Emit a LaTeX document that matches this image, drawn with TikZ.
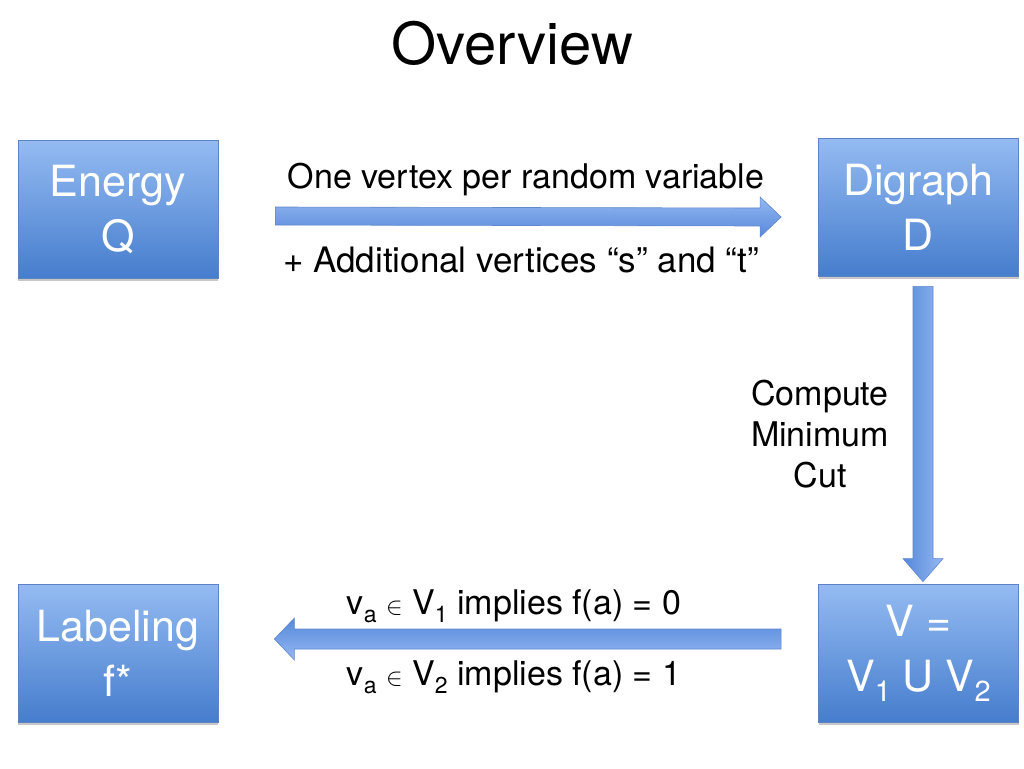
\documentclass[tikz,border=0pt]{standalone}
\usepackage{fontspec}
\setmainfont{TeX Gyre Heros}
\usetikzlibrary{calc,shadows}
\definecolor{boxtop}{RGB}{148,187,242}
\definecolor{boxbot}{RGB}{70,125,205}
\definecolor{boxedge}{RGB}{92,132,196}
\definecolor{arrlight}{RGB}{148,184,242}
\definecolor{arrdark}{RGB}{86,136,218}
\definecolor{arredge}{RGB}{96,136,204}
\newcommand\tsub[1]{\raisebox{-8pt}{\fontsize{23}{23}\selectfont #1}}
\newcommand\vsub[1]{\raisebox{-10pt}{\fontsize{29}{29}\selectfont #1}}
\begin{document}
\begin{tikzpicture}[x=1pt,y=-1pt,
  box/.style={draw=boxedge, line width=0.8pt, top color=boxtop, bottom color=boxbot,
    minimum width=200pt, minimum height=138pt, inner sep=0pt, align=center,
    text=white, font=\fontsize{43}{55}\selectfont,
    drop shadow={shadow xshift=0pt, shadow yshift=-3pt, opacity=0.22, fill=black}},
  lbl/.style={text=black, font=\fontsize{34}{41}\selectfont},
  harrowA/.style={draw=arredge, line width=0.6pt, top color=arrlight, bottom color=arrdark},
  harrowB/.style={draw=arredge, line width=0.6pt, top color=arrdark, bottom color=arrlight},
  varrow/.style={draw=arredge, line width=0.6pt, left color=arrdark, right color=arrlight}]
\useasboundingbox (0,0) rectangle (1024,768);
\fill[white] (0,0) rectangle (1024,768);

\node[anchor=base, font=\fontsize{58}{58}\selectfont] (title) at (512,64) {Overview};

\node[box] (Q) at (118,209) {Energy\\Q};
\node[box] (D) at (918.5,207) {Digraph\\D};
\node[box] (L) at (118,653) {Labeling\\f*};
\node[box] (V) at (918.5,653) {V =\\V\vsub{1} U V\vsub{2}};

% top arrow
\coordinate (a1s) at ($(Q.east)+(57,7)$);
\coordinate (a1e) at ($(D.west)+(-37,10)$);
\path[harrowA] ($(a1s)+(0,-9)$) -- ($(a1e)+(-21,-9)$) -- ($(a1e)+(-21,-20)$) -- (a1e)
  -- ($(a1e)+(-21,20)$) -- ($(a1e)+(-21,9)$) -- ($(a1s)+(0,9)$) -- cycle;

% vertical arrow
\coordinate (a2s) at ($(D.south)+(4.5,10)$);
\coordinate (a2e) at ($(V.north)+(4.5,-2)$);
\path[varrow] ($(a2s)+(-10,0)$) -- ($(a2e)+(-10,-23)$) -- ($(a2e)+(-20,-23)$) -- (a2e)
  -- ($(a2e)+(20,-23)$) -- ($(a2e)+(10,-23)$) -- ($(a2s)+(10,0)$) -- cycle;

% bottom arrow
\coordinate (a3s) at ($(V.west)+(-37,-14)$);
\coordinate (a3e) at ($(L.east)+(56,-14)$);
\path[harrowB] ($(a3s)+(0,-10)$) -- ($(a3e)+(20,-10)$) -- ($(a3e)+(20,-21)$) -- (a3e)
  -- ($(a3e)+(20,21)$) -- ($(a3e)+(20,10)$) -- ($(a3s)+(0,10)$) -- cycle;

\node[lbl, anchor=base] (t1) at (526,188) {One vertex per random variable};
\node[lbl, anchor=base, font=\fontsize{35}{41}\selectfont] (t2) at (521,272) {+ Additional vertices “s” and “t”};
\node[lbl, align=center] (t3) at (820,434) {Compute\\Minimum\\Cut};
\node[lbl, anchor=base] (t4) at (514,614) {v\tsub{a} {\fontsize{27}{27}\selectfont$\in$} V\tsub{1} implies f(a) = 0};
\node[lbl, anchor=base] (t5) at (514,685) {v\tsub{a} {\fontsize{27}{27}\selectfont$\in$} V\tsub{2} implies f(a) = 1};
\end{tikzpicture}
\end{document}
